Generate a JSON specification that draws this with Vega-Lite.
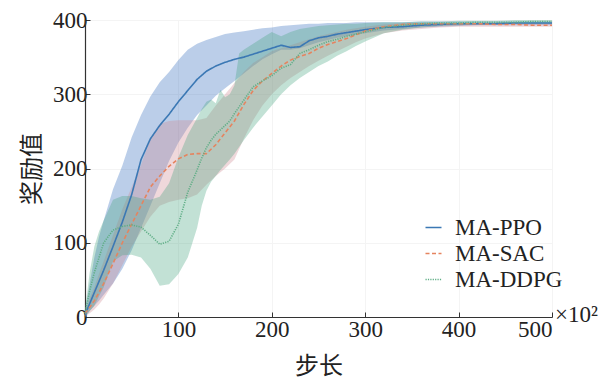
{
  "$schema": "https://vega.github.io/schema/vega-lite/v6.json",
  "width": 467,
  "height": 297,
  "autosize": {"type": "none"},
  "padding": {"left": 85, "top": 20, "right": 51, "bottom": 62},
  "background": "white",
  "config": {
    "view": {"stroke": null},
    "font": "Liberation Serif",
    "axis": {"labelFont": "Liberation Serif", "labelFontSize": 23, "labelColor": "#222", "domainColor": "#333", "domainWidth": 1.2, "tickColor": "#333", "gridColor": "#f4f4f4", "gridWidth": 1},
    "legend": {"labelFont": "Liberation Serif", "labelFontSize": 23, "labelColor": "#222", "symbolType": "stroke", "symbolSize": 256, "symbolStrokeWidth": 1.6, "labelOffset": 10, "rowPadding": 2}
  },
  "datasets": {
    "d": [
      {"s":"MA-PPO","x":0,"m":3,"lo":0,"hi":8},
      {"s":"MA-PPO","x":5,"m":18,"lo":8,"hi":45},
      {"s":"MA-PPO","x":10,"m":33,"lo":15,"hi":80},
      {"s":"MA-PPO","x":15,"m":48,"lo":22,"hi":108},
      {"s":"MA-PPO","x":20,"m":63,"lo":30,"hi":130},
      {"s":"MA-PPO","x":30,"m":95,"lo":45,"hi":172},
      {"s":"MA-PPO","x":40,"m":128,"lo":65,"hi":204},
      {"s":"MA-PPO","x":50,"m":165,"lo":90,"hi":242},
      {"s":"MA-PPO","x":60,"m":212,"lo":120,"hi":272},
      {"s":"MA-PPO","x":70,"m":240,"lo":150,"hi":297},
      {"s":"MA-PPO","x":80,"m":258,"lo":180,"hi":316},
      {"s":"MA-PPO","x":90,"m":273,"lo":210,"hi":330},
      {"s":"MA-PPO","x":100,"m":290,"lo":235,"hi":346},
      {"s":"MA-PPO","x":110,"m":305,"lo":255,"hi":360},
      {"s":"MA-PPO","x":120,"m":320,"lo":272,"hi":368},
      {"s":"MA-PPO","x":130,"m":331,"lo":285,"hi":373},
      {"s":"MA-PPO","x":140,"m":338,"lo":298,"hi":377},
      {"s":"MA-PPO","x":150,"m":343,"lo":308,"hi":381},
      {"s":"MA-PPO","x":160,"m":347,"lo":318,"hi":383},
      {"s":"MA-PPO","x":170,"m":350,"lo":328,"hi":385},
      {"s":"MA-PPO","x":180,"m":354,"lo":338,"hi":387},
      {"s":"MA-PPO","x":190,"m":358,"lo":347,"hi":389},
      {"s":"MA-PPO","x":200,"m":362,"lo":354,"hi":390},
      {"s":"MA-PPO","x":210,"m":366,"lo":360,"hi":392},
      {"s":"MA-PPO","x":220,"m":363,"lo":360,"hi":393},
      {"s":"MA-PPO","x":230,"m":364,"lo":362,"hi":394},
      {"s":"MA-PPO","x":240,"m":372,"lo":366,"hi":395},
      {"s":"MA-PPO","x":250,"m":376,"lo":370,"hi":395},
      {"s":"MA-PPO","x":260,"m":378,"lo":373,"hi":396},
      {"s":"MA-PPO","x":270,"m":381,"lo":376,"hi":396},
      {"s":"MA-PPO","x":280,"m":383,"lo":378,"hi":396},
      {"s":"MA-PPO","x":290,"m":385,"lo":380,"hi":397},
      {"s":"MA-PPO","x":300,"m":387,"lo":382,"hi":397},
      {"s":"MA-PPO","x":320,"m":390,"lo":386,"hi":397},
      {"s":"MA-PPO","x":340,"m":391,"lo":388,"hi":397},
      {"s":"MA-PPO","x":360,"m":393,"lo":390,"hi":398},
      {"s":"MA-PPO","x":380,"m":394,"lo":391,"hi":398},
      {"s":"MA-PPO","x":400,"m":395,"lo":392,"hi":398},
      {"s":"MA-PPO","x":420,"m":395,"lo":393,"hi":398},
      {"s":"MA-PPO","x":440,"m":395,"lo":393,"hi":398},
      {"s":"MA-PPO","x":460,"m":396,"lo":393,"hi":398},
      {"s":"MA-PPO","x":480,"m":396,"lo":393,"hi":398},
      {"s":"MA-PPO","x":500,"m":396,"lo":393,"hi":398},

      {"s":"MA-SAC","x":0,"m":5,"lo":0,"hi":8},
      {"s":"MA-SAC","x":5,"m":13,"lo":5,"hi":25},
      {"s":"MA-SAC","x":10,"m":22,"lo":10,"hi":40},
      {"s":"MA-SAC","x":15,"m":33,"lo":17,"hi":58},
      {"s":"MA-SAC","x":20,"m":45,"lo":25,"hi":75},
      {"s":"MA-SAC","x":30,"m":72,"lo":45,"hi":110},
      {"s":"MA-SAC","x":40,"m":100,"lo":70,"hi":145},
      {"s":"MA-SAC","x":50,"m":125,"lo":95,"hi":175},
      {"s":"MA-SAC","x":60,"m":150,"lo":115,"hi":205},
      {"s":"MA-SAC","x":70,"m":175,"lo":135,"hi":240},
      {"s":"MA-SAC","x":80,"m":190,"lo":150,"hi":260},
      {"s":"MA-SAC","x":90,"m":203,"lo":155,"hi":264},
      {"s":"MA-SAC","x":100,"m":213,"lo":158,"hi":265},
      {"s":"MA-SAC","x":110,"m":219,"lo":160,"hi":265},
      {"s":"MA-SAC","x":120,"m":220,"lo":165,"hi":265},
      {"s":"MA-SAC","x":130,"m":220,"lo":178,"hi":268},
      {"s":"MA-SAC","x":140,"m":232,"lo":190,"hi":285},
      {"s":"MA-SAC","x":150,"m":248,"lo":200,"hi":300},
      {"s":"MA-SAC","x":160,"m":264,"lo":212,"hi":315},
      {"s":"MA-SAC","x":170,"m":286,"lo":240,"hi":330},
      {"s":"MA-SAC","x":180,"m":305,"lo":265,"hi":342},
      {"s":"MA-SAC","x":190,"m":318,"lo":285,"hi":350},
      {"s":"MA-SAC","x":200,"m":328,"lo":300,"hi":358},
      {"s":"MA-SAC","x":210,"m":338,"lo":312,"hi":362},
      {"s":"MA-SAC","x":220,"m":346,"lo":322,"hi":366},
      {"s":"MA-SAC","x":230,"m":351,"lo":330,"hi":370},
      {"s":"MA-SAC","x":240,"m":355,"lo":338,"hi":374},
      {"s":"MA-SAC","x":250,"m":362,"lo":345,"hi":378},
      {"s":"MA-SAC","x":260,"m":367,"lo":352,"hi":381},
      {"s":"MA-SAC","x":270,"m":371,"lo":358,"hi":384},
      {"s":"MA-SAC","x":280,"m":375,"lo":364,"hi":387},
      {"s":"MA-SAC","x":290,"m":380,"lo":370,"hi":389},
      {"s":"MA-SAC","x":300,"m":385,"lo":375,"hi":391},
      {"s":"MA-SAC","x":320,"m":391,"lo":382,"hi":394},
      {"s":"MA-SAC","x":340,"m":394,"lo":386,"hi":396},
      {"s":"MA-SAC","x":360,"m":395,"lo":388,"hi":396},
      {"s":"MA-SAC","x":380,"m":395,"lo":390,"hi":396},
      {"s":"MA-SAC","x":400,"m":395,"lo":391,"hi":396},
      {"s":"MA-SAC","x":420,"m":395,"lo":391,"hi":396},
      {"s":"MA-SAC","x":440,"m":394,"lo":391,"hi":396},
      {"s":"MA-SAC","x":460,"m":394,"lo":391,"hi":396},
      {"s":"MA-SAC","x":480,"m":393,"lo":391,"hi":396},
      {"s":"MA-SAC","x":500,"m":393,"lo":391,"hi":396},

      {"s":"MA-DDPG","x":0,"m":5,"lo":0,"hi":10},
      {"s":"MA-DDPG","x":5,"m":35,"lo":8,"hi":60},
      {"s":"MA-DDPG","x":10,"m":60,"lo":15,"hi":95},
      {"s":"MA-DDPG","x":15,"m":80,"lo":28,"hi":115},
      {"s":"MA-DDPG","x":20,"m":100,"lo":40,"hi":130},
      {"s":"MA-DDPG","x":30,"m":117,"lo":75,"hi":158},
      {"s":"MA-DDPG","x":40,"m":122,"lo":83,"hi":163},
      {"s":"MA-DDPG","x":50,"m":124,"lo":84,"hi":163},
      {"s":"MA-DDPG","x":60,"m":121,"lo":80,"hi":160},
      {"s":"MA-DDPG","x":70,"m":110,"lo":65,"hi":158},
      {"s":"MA-DDPG","x":80,"m":98,"lo":42,"hi":162},
      {"s":"MA-DDPG","x":90,"m":102,"lo":44,"hi":180},
      {"s":"MA-DDPG","x":100,"m":125,"lo":58,"hi":215},
      {"s":"MA-DDPG","x":110,"m":168,"lo":80,"hi":245},
      {"s":"MA-DDPG","x":120,"m":198,"lo":120,"hi":268},
      {"s":"MA-DDPG","x":125,"m":214,"lo":150,"hi":280},
      {"s":"MA-DDPG","x":130,"m":228,"lo":170,"hi":290},
      {"s":"MA-DDPG","x":135,"m":238,"lo":182,"hi":293},
      {"s":"MA-DDPG","x":140,"m":246,"lo":190,"hi":288},
      {"s":"MA-DDPG","x":145,"m":252,"lo":198,"hi":306},
      {"s":"MA-DDPG","x":150,"m":258,"lo":205,"hi":296},
      {"s":"MA-DDPG","x":155,"m":264,"lo":212,"hi":300},
      {"s":"MA-DDPG","x":160,"m":274,"lo":220,"hi":312},
      {"s":"MA-DDPG","x":165,"m":283,"lo":229,"hi":355},
      {"s":"MA-DDPG","x":170,"m":292,"lo":238,"hi":360},
      {"s":"MA-DDPG","x":180,"m":310,"lo":255,"hi":368},
      {"s":"MA-DDPG","x":190,"m":318,"lo":270,"hi":376},
      {"s":"MA-DDPG","x":200,"m":325,"lo":285,"hi":384},
      {"s":"MA-DDPG","x":210,"m":335,"lo":300,"hi":378},
      {"s":"MA-DDPG","x":220,"m":340,"lo":312,"hi":384},
      {"s":"MA-DDPG","x":230,"m":355,"lo":322,"hi":388},
      {"s":"MA-DDPG","x":240,"m":360,"lo":330,"hi":390},
      {"s":"MA-DDPG","x":250,"m":366,"lo":338,"hi":392},
      {"s":"MA-DDPG","x":260,"m":371,"lo":344,"hi":393},
      {"s":"MA-DDPG","x":270,"m":374,"lo":352,"hi":394},
      {"s":"MA-DDPG","x":280,"m":378,"lo":358,"hi":395},
      {"s":"MA-DDPG","x":290,"m":381,"lo":365,"hi":395},
      {"s":"MA-DDPG","x":300,"m":384,"lo":371,"hi":396},
      {"s":"MA-DDPG","x":320,"m":390,"lo":382,"hi":397},
      {"s":"MA-DDPG","x":340,"m":393,"lo":387,"hi":397},
      {"s":"MA-DDPG","x":360,"m":395,"lo":390,"hi":398},
      {"s":"MA-DDPG","x":380,"m":396,"lo":392,"hi":398},
      {"s":"MA-DDPG","x":400,"m":396,"lo":393,"hi":399},
      {"s":"MA-DDPG","x":420,"m":397,"lo":394,"hi":399},
      {"s":"MA-DDPG","x":440,"m":397,"lo":394,"hi":399},
      {"s":"MA-DDPG","x":460,"m":397,"lo":395,"hi":400},
      {"s":"MA-DDPG","x":480,"m":398,"lo":395,"hi":400},
      {"s":"MA-DDPG","x":500,"m":398,"lo":395,"hi":400}
    ]
  },
  "data": {"name": "d"},
  "encoding": {
    "x": {"field": "x", "type": "quantitative", "scale": {"domain": [0, 500], "nice": false},
      "axis": {"values": [100, 200, 300, 400, 500], "title": "步长", "titleFont": "Noto Sans CJK SC", "titleFontSize": 24, "titleFontWeight": "normal", "titleColor": "#222", "titlePadding": 13, "tickSize": -5, "labelPadding": 6, "grid": true}}
  },
  "layer": [
    {
      "mark": {"type": "area", "fillOpacity": 0.32, "stroke": null},
      "encoding": {
        "y": {"field": "lo", "type": "quantitative", "scale": {"domain": [0, 400], "nice": false},
          "axis": {"values": [0, 50, 100, 150, 200, 250, 300, 350, 400], "title": "奖励值", "titleFont": "Noto Sans CJK SC", "titleFontSize": 24, "titleFontWeight": "normal", "titleColor": "#222", "titlePadding": 8, "tickSize": -5, "labelPadding": 3, "grid": true}},
        "y2": {"field": "hi"},
        "color": {"field": "s", "type": "nominal",
          "scale": {"domain": ["MA-PPO", "MA-SAC", "MA-DDPG"], "range": ["#2a66bb", "#cd878e", "#41a27d"]}, "legend": null}
      }
    },
    {
      "mark": {"type": "line", "strokeWidth": 1.6},
      "encoding": {
        "y": {"field": "m", "type": "quantitative"},
        "stroke": {"field": "s", "type": "nominal",
          "scale": {"domain": ["MA-PPO", "MA-SAC", "MA-DDPG"], "range": ["#3b78b4", "#e5845f", "#5fae86"]},
          "legend": {"title": null, "orient": "none", "legendX": 337, "legendY": 196,
            "encode": {"symbols": {"update": {"strokeDash": {"scale": "strokeDash", "field": "value"}}}}}},
        "strokeDash": {"field": "s", "type": "nominal",
          "scale": {"domain": ["MA-PPO", "MA-SAC", "MA-DDPG"], "range": [[1, 0], [4, 2.5], [1.2, 1.2]]},
          "legend": null}
      }
    },
    {
      "data": {"values": [{"x": 500, "y": 0, "t": "×10²"}]},
      "mark": {"type": "text", "align": "left", "baseline": "alphabetic", "dx": 3, "dy": 5, "font": "Liberation Serif", "fontSize": 23, "color": "#222"},
      "encoding": {
        "x": {"field": "x", "type": "quantitative"},
        "y": {"field": "y", "type": "quantitative"},
        "text": {"field": "t"}
      }
    }
  ],
  "resolve": {"scale": {"color": "independent", "stroke": "independent"}}
}
